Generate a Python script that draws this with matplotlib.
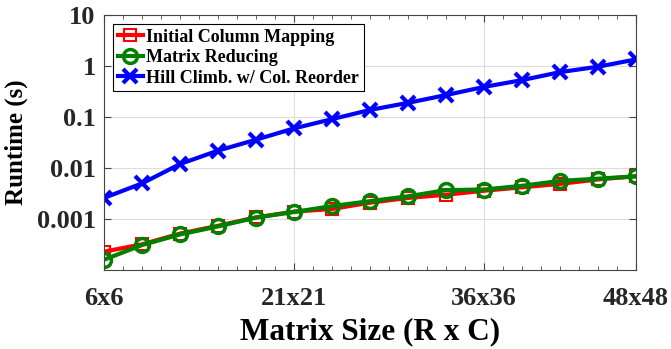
import numpy as np
import matplotlib
matplotlib.use('Agg')
import matplotlib.pyplot as plt
from matplotlib.ticker import FixedLocator, MultipleLocator, LogLocator, NullFormatter

plt.rcParams['font.family'] = 'Liberation Serif'
plt.rcParams['font.weight'] = 'bold'

# matrix size R (= C)
sizes = [6, 9, 12, 15, 18, 21, 24, 27, 30, 33, 36, 39, 42, 45, 48]
initial_mapping = [0.00023, 0.00032, 0.00052, 0.00074, 0.00108, 0.0014, 0.00158, 0.0021,
                   0.0026, 0.0030, 0.0036, 0.0042, 0.0049, 0.0060, 0.0069]
matrix_reducing = [0.00016, 0.00031, 0.0005, 0.00072, 0.00107, 0.00138, 0.0018, 0.00225,
                   0.0028, 0.0037, 0.0038, 0.0045, 0.0056, 0.0062, 0.0069]
hill_climb = [0.0026, 0.0050, 0.012, 0.022, 0.036, 0.060, 0.091, 0.138,
              0.19, 0.27, 0.39, 0.53, 0.76, 0.97, 1.35]

xticks = [6, 21, 36, 48]
xticklabels = ['6x6', '21x21', '36x36', '48x48']
yticks = [0.001, 0.01, 0.1, 1, 10]
yticklabels = ['0.001', '0.01', '0.1', '1', '10']

fig = plt.figure(figsize=(6.71, 3.49), dpi=100)
ax = fig.add_axes([0.155, 0.226, 0.793, 0.731])

ax.plot(sizes, initial_mapping, color='red', lw=3, marker='s', ms=8, mfc='none', mew=1.5,
        label='Initial Column Mapping')
ax.plot(sizes, matrix_reducing, color=(0, 0.5, 0), lw=3, marker='o', ms=10, mfc='none', mew=2.5,
        label='Matrix Reducing')
ax.plot(sizes, hill_climb, color='blue', lw=3, marker='x', ms=10, mew=3,
        label='Hill Climb. w/ Col. Reorder')

ax.set_yscale('log')
ax.set_xlim(6, 48)
ax.set_ylim(1e-4, 10)

ax.xaxis.set_major_locator(FixedLocator(xticks))
ax.set_xticklabels(xticklabels)
ax.xaxis.set_minor_locator(MultipleLocator(1.5))
ax.yaxis.set_major_locator(FixedLocator(yticks))
ax.set_yticklabels(yticklabels)
ax.yaxis.set_minor_locator(LogLocator(base=10, subs=np.arange(2, 10)))
ax.yaxis.set_minor_formatter(NullFormatter())

ax.tick_params(which='both', direction='in', top=True, right=True, color='#444444')
ax.tick_params(which='major', length=5, labelsize=19)
ax.tick_params(axis='x', which='major', pad=12)
ax.tick_params(axis='y', which='major', pad=6)
ax.tick_params(which='minor', length=3)
for lbl in ax.get_xticklabels() + ax.get_yticklabels():
    lbl.set_color('#262626')

ax.grid(True, which='major', color='#dddddd', lw=0.8)
ax.grid(True, which='minor', axis='y', color='#dddddd', lw=0.6, ls=':')
for s in ax.spines.values():
    s.set_color('#444444')

ax.set_xlabel('Matrix Size (R x C)', fontsize=22.5, fontweight='bold', labelpad=5)
ax.set_ylabel('Runtime (s)', fontsize=18, fontweight='bold', labelpad=6)

leg = ax.legend(loc='upper left', fontsize=13, handlelength=1.4, handletextpad=0.2,
                borderpad=0.25, labelspacing=0.2, fancybox=False, framealpha=1,
                edgecolor='black', borderaxespad=0.5)
leg.get_frame().set_linewidth(0.8)

plt.savefig('out.png', dpi=100)
